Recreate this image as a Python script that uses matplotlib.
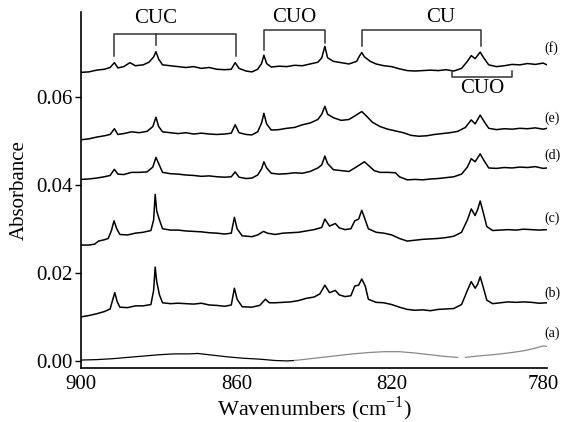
import numpy as np
import matplotlib
matplotlib.use("Agg")
import matplotlib.pyplot as plt
import matplotlib.transforms as mtransforms

plt.rcParams['font.family'] = ['Liberation Serif', 'DejaVu Serif']
plt.rcParams['mathtext.fontset'] = 'custom'
plt.rcParams['mathtext.rm'] = 'Liberation Serif'

# ---- spectra (wavenumber, absorbance) ----
f_wn = [900, 898, 896, 894, 892.5, 891.4, 890.5, 889, 887.4, 886, 884, 882.5, 881.3, 880.7, 880, 879,
        877, 875, 873, 871, 869, 867, 865, 863, 861.3, 860.3, 859.3, 857.5, 856, 854.5, 853.5, 852.9,
        852.2, 851, 849, 847, 845, 843, 841, 839, 838, 837.2, 836.5, 835, 833, 831, 829, 828.3, 827.7,
        827, 825.5, 824, 822, 820, 818, 816, 814, 812, 810, 808, 806, 804, 802, 800.5, 799.5, 798.5,
        797.2, 796.3, 795, 793, 791, 789, 787, 785, 783, 781, 780]
f_ab = [0.0655, 0.0656, 0.0660, 0.0662, 0.0666, 0.0677, 0.0665, 0.0668, 0.0677, 0.0670, 0.0672, 0.0678,
        0.0690, 0.0702, 0.0685, 0.0672, 0.0670, 0.0668, 0.0666, 0.0668, 0.0664, 0.0666, 0.0662, 0.0661,
        0.0662, 0.0677, 0.0664, 0.0658, 0.0656, 0.0662, 0.0675, 0.0694, 0.0675, 0.0667, 0.0669, 0.0668,
        0.0671, 0.0670, 0.0674, 0.0678, 0.0688, 0.0714, 0.0688, 0.0680, 0.0677, 0.0674, 0.0680, 0.0692,
        0.0700, 0.0690, 0.0680, 0.0674, 0.0670, 0.0668, 0.0663, 0.0659, 0.0658, 0.0659, 0.0660, 0.0659,
        0.0661, 0.0658, 0.0664, 0.0680, 0.0693, 0.0686, 0.0701, 0.0688, 0.0672, 0.0668, 0.0670, 0.0673,
        0.0672, 0.0675, 0.0673, 0.0676, 0.0672]

e_wn = [900, 898, 896, 894, 892.5, 891.4, 890.5, 889, 887, 885, 883, 881.5, 880.7, 880, 879, 877, 875,
        873, 871, 869, 867, 865, 863, 861.3, 860.3, 859.3, 857.5, 856, 854.5, 853.5, 852.9, 852.2, 851,
        849, 847, 845, 843, 841, 839, 838, 837.2, 836.5, 835, 833, 831, 829.5, 827.7, 826.5, 825, 823,
        821, 819, 817, 815, 813, 811, 809, 807, 805, 803, 801, 799.5, 798.5, 797.2, 796.3, 795, 793, 791,
        789, 787, 785, 783, 781, 780]
e_ab = [0.0502, 0.0504, 0.0508, 0.0511, 0.0514, 0.0527, 0.0514, 0.0516, 0.0520, 0.0518, 0.0521, 0.0532,
        0.0553, 0.0532, 0.0520, 0.0518, 0.0516, 0.0518, 0.0515, 0.0517, 0.0515, 0.0514, 0.0515, 0.0517,
        0.0536, 0.0518, 0.0514, 0.0513, 0.0520, 0.0540, 0.0562, 0.0538, 0.0524, 0.0525, 0.0528, 0.0530,
        0.0536, 0.0540, 0.0548, 0.0560, 0.0578, 0.0560, 0.0552, 0.0546, 0.0548, 0.0556, 0.0566, 0.0556,
        0.0542, 0.0532, 0.0526, 0.0522, 0.0518, 0.0512, 0.0510, 0.0511, 0.0514, 0.0516, 0.0518, 0.0521,
        0.0530, 0.0547, 0.0538, 0.0558, 0.0545, 0.0528, 0.0525, 0.0527, 0.0526, 0.0528, 0.0527, 0.0529,
        0.0526, 0.0528]

d_wn = [900, 898, 896, 894, 892.5, 891.4, 890.5, 889, 887, 885, 883, 881.5, 880.7, 880, 879, 877, 875,
        873, 871, 869, 867, 865, 863, 861.3, 860.3, 859.3, 857.5, 856, 854.5, 853.5, 852.9, 852.2, 851,
        849, 847, 845, 843, 841, 839, 838, 837.2, 836.5, 835, 833, 831, 829.5, 827, 826, 824.5, 823, 821,
        819, 818, 816, 814, 812, 810, 808, 806, 804, 802, 800.5, 799.5, 798.5, 797.2, 796.3, 795, 793,
        791, 789, 787, 785, 783, 781, 780]
d_ab = [0.0412, 0.0413, 0.0415, 0.0418, 0.0421, 0.0435, 0.0424, 0.0423, 0.0428, 0.0428, 0.0429, 0.0440,
        0.0462, 0.0448, 0.0428, 0.0425, 0.0424, 0.0422, 0.0421, 0.0419, 0.0420, 0.0418, 0.0417, 0.0418,
        0.0429, 0.0417, 0.0414, 0.0415, 0.0422, 0.0436, 0.0452, 0.0438, 0.0426, 0.0424, 0.0425, 0.0427,
        0.0426, 0.0430, 0.0438, 0.0445, 0.0465, 0.0448, 0.0434, 0.0432, 0.0430, 0.0438, 0.0452, 0.0444,
        0.0432, 0.0428, 0.0428, 0.0427, 0.0418, 0.0411, 0.0412, 0.0411, 0.0413, 0.0414, 0.0416, 0.0418,
        0.0424, 0.0440, 0.0459, 0.0452, 0.0470, 0.0456, 0.0438, 0.0437, 0.0439, 0.0438, 0.0440, 0.0439,
        0.0441, 0.0437, 0.0438]

c_wn = [900, 898, 896.5, 895.5, 894, 893, 892.2, 891.5, 890.8, 890, 888, 886, 884, 882, 881.3, 880.9,
        880.5, 879.8, 879, 877, 875, 873, 871, 869, 867, 865, 863, 861.3, 860.5, 859.8, 858.5, 856, 854.5,
        853, 852, 850, 848, 846, 844, 842, 840, 838, 837.2, 836, 834.5, 833.5, 832, 830.5, 829.5, 828.5,
        827.7, 826.8, 826, 824, 822, 820, 818, 816, 814, 812, 810, 808, 806, 804, 802, 800.5, 799.5,
        798.5, 797.8, 797.2, 796.5, 795.5, 794, 792, 790, 788, 786, 784, 782, 780]
c_ab = [0.0263, 0.0263, 0.0265, 0.0272, 0.0275, 0.0278, 0.0295, 0.0318, 0.0300, 0.0287, 0.0286, 0.0290,
        0.0292, 0.0296, 0.0320, 0.0378, 0.0340, 0.0320, 0.0300, 0.0297, 0.0297, 0.0295, 0.0294, 0.0293,
        0.0291, 0.0290, 0.0288, 0.0290, 0.0326, 0.0300, 0.0284, 0.0282, 0.0286, 0.0294, 0.0290, 0.0287,
        0.0290, 0.0291, 0.0292, 0.0295, 0.0298, 0.0303, 0.0322, 0.0306, 0.0312, 0.0302, 0.0298, 0.0300,
        0.0318, 0.0322, 0.0342, 0.0320, 0.0300, 0.0292, 0.0290, 0.0286, 0.0278, 0.0272, 0.0274, 0.0276,
        0.0277, 0.0278, 0.0280, 0.0283, 0.0292, 0.0320, 0.0345, 0.0330, 0.0345, 0.0363, 0.0340, 0.0305,
        0.0296, 0.0297, 0.0298, 0.0297, 0.0299, 0.0298, 0.0297, 0.0298]

b_wn = [900, 898, 896, 894, 892.5, 891.8, 891.3, 890.7, 890, 888, 886, 884, 882, 881.3, 880.9, 880.5,
        879.8, 879, 877, 875, 873, 871, 869, 867, 865, 863, 861.3, 860.5, 859.8, 858.5, 856, 854, 852.5,
        851.5, 850, 848, 846, 844, 842, 840, 838.5, 837.2, 836, 834.5, 833.5, 832, 830.5, 829.5, 828.5,
        827.7, 826.8, 826, 824, 822, 820, 818, 816, 814, 812, 810, 808, 806, 804, 802, 800.5, 799.5,
        798.5, 797.8, 797.2, 796.5, 795.5, 794, 792, 790, 788, 786, 784, 782, 780]
b_ab = [0.0100, 0.0103, 0.0107, 0.0112, 0.0118, 0.0140, 0.0155, 0.0135, 0.0122, 0.0121, 0.0125, 0.0125,
        0.0128, 0.0160, 0.0213, 0.0180, 0.0150, 0.0132, 0.0130, 0.0131, 0.0130, 0.0129, 0.0131, 0.0127,
        0.0126, 0.0124, 0.0127, 0.0165, 0.0140, 0.0123, 0.0122, 0.0126, 0.0140, 0.0132, 0.0132, 0.0133,
        0.0134, 0.0137, 0.0142, 0.0145, 0.0152, 0.0172, 0.0155, 0.0160, 0.0150, 0.0146, 0.0148, 0.0170,
        0.0172, 0.0186, 0.0170, 0.0140, 0.0133, 0.0132, 0.0128, 0.0122, 0.0117, 0.0115, 0.0116, 0.0114,
        0.0117, 0.0118, 0.0119, 0.0128, 0.0160, 0.0180, 0.0165, 0.0175, 0.0191, 0.0170, 0.0138, 0.0130,
        0.0132, 0.0134, 0.0133, 0.0134, 0.0133, 0.0131, 0.0132]

# trace (a): dark part, then the lighter grey part (with a small break)
a1_wn = [900, 896, 892, 888, 884, 880, 876, 872, 870, 866, 862, 858, 854, 850, 847, 845]
a1_ab = [0.0002, 0.0003, 0.0005, 0.0008, 0.0011, 0.0014, 0.0016, 0.0016, 0.0017, 0.0013, 0.0009,
         0.0006, 0.0004, 0.0001, 0.0000, 0.0001]
a2_wn = [845, 842, 838, 834, 830, 826, 822, 818, 814, 810, 806, 803, 802, 801, 798, 794, 790, 786,
         783, 781, 780]
a2_ab = [0.0001, 0.0004, 0.0008, 0.0012, 0.0016, 0.0019, 0.0021, 0.0021, 0.0018, 0.0014, 0.0010,
         0.0008, np.nan, 0.0008, 0.0011, 0.0014, 0.0018, 0.0023, 0.0029, 0.0034, 0.0033]

trace_names = ['(a)', '(b)', '(c)', '(d)', '(e)', '(f)']
name_y = [0.0063, 0.0154, 0.0324, 0.0467, 0.0551, 0.0710]

fig = plt.figure(figsize=(5.61, 4.22), dpi=100)
ax = fig.add_axes([0.1444, 0.128, 0.8306, 0.8436])

lw = 1.1
for wn, ab in [(b_wn, b_ab), (c_wn, c_ab), (d_wn, d_ab), (e_wn, e_ab), (f_wn, f_ab)]:
    ax.plot(wn, ab, color='black', lw=lw)
ax.plot(a1_wn, a1_ab, color='black', lw=0.9)
ax.plot(a2_wn, a2_ab, color='#888888', lw=0.9)

for name, yy in zip(trace_names, name_y):
    ax.text(780.6, yy, name, fontsize=10, ha='left', va='center', clip_on=False)

# band assignment brackets
def bracket(x1, x2, ytop, yl, yr, label, lx, ly):
    ax.plot([x1, x1, x2, x2], [yl, ytop, ytop, yr], color='#333333', lw=1.1, clip_on=False)
    ax.text(lx, ly, label, fontsize=15, ha='center', va='center')

bracket(891.4, 860.1, 0.0743, 0.0692, 0.0692, 'CUC', 880.8, 0.0777)
ax.plot([880.7, 880.7], [0.0743, 0.0717], color='#333333', lw=1.1)
bracket(852.8, 837.2, 0.0752, 0.0706, 0.0721, 'CUO', 845.0, 0.0779)
bracket(827.7, 797.1, 0.0752, 0.0715, 0.0715, 'CU', 807.5, 0.0780)
bracket(804.5, 789.0, 0.0644, 0.0658, 0.0658, 'CUO', 796.7, 0.0619)

ax.set_xlim(900, 780)
ax.set_ylim(-0.0016, 0.0792)
ax.set_xticks([900, 860, 820, 780])
ax.set_yticks([0.00, 0.02, 0.04, 0.06])
ax.set_yticklabels(['0.00', '0.02', '0.04', '0.06'])
ax.tick_params(axis='x', length=0, labelsize=15, pad=5)
ax.tick_params(axis='y', length=4, width=1, labelsize=15, pad=2)
for side in ['top', 'right']:
    ax.spines[side].set_visible(False)
for side in ['left', 'bottom']:
    ax.spines[side].set_linewidth(1.2)

# nudge the last x label a little so it stays inside the figure
last = ax.get_xticklabels()[-1]
last.set_transform(last.get_transform() +
                   mtransforms.ScaledTranslation(-4 / 100, 0, fig.dpi_scale_trans))

ax.set_xlabel(r'Wavenumbers (cm$^{\mathrm{-1}}$)', fontsize=16, labelpad=0)
ax.set_ylabel('Absorbance', fontsize=15, labelpad=5)

fig.savefig('out.png', dpi=100)
